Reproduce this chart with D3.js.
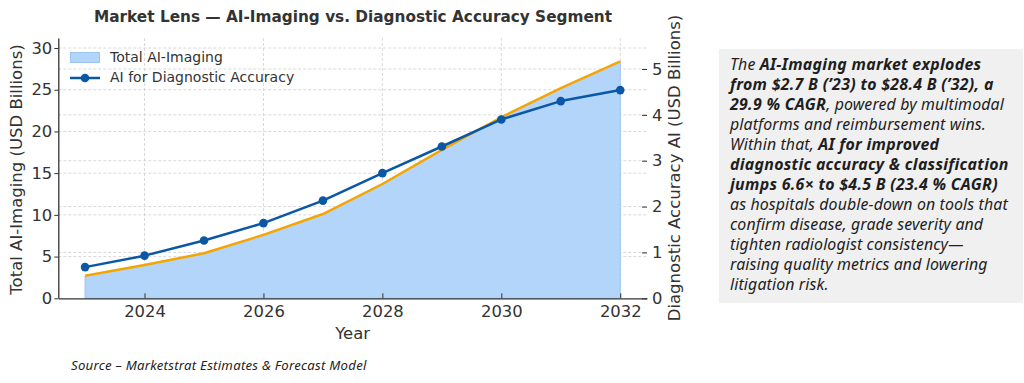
<!DOCTYPE html>
<html>
<head>
<meta charset="utf-8">
<script src="https://cdn.jsdelivr.net/npm/d3@7"></script>
<style>
  html, body { margin: 0; padding: 0; background: #fff; }
  svg { display: block; }
</style>
</head>
<body>
<svg id="chart" width="1024" height="383"></svg>
<script>
// ---- data ----
const years = [2023, 2024, 2025, 2026, 2027, 2028, 2029, 2030, 2031, 2032];
const totalImaging = [2.7, 4.0, 5.4, 7.6, 10.1, 13.7, 17.8, 21.7, 25.2, 28.4];
const diagAccuracy = [0.68, 0.93, 1.26, 1.64, 2.13, 2.73, 3.31, 3.90, 4.30, 4.54];
const xTicks = [2024, 2026, 2028, 2030, 2032];
const leftTicks = [0, 5, 10, 15, 20, 25, 30];
const rightTicks = [0, 1, 2, 3, 4, 5];

const titleText = "Market Lens — AI-Imaging vs. Diagnostic Accuracy Segment";
const xLabel = "Year";
const leftLabel = "Total AI-Imaging (USD Billions)";
const rightLabel = "Diagnostic Accuracy AI (USD Billions)";
const legendLabels = ["Total AI-Imaging", "AI for Diagnostic Accuracy"];
const sourceText = "Source – Marketstrat Estimates & Forecast Model";
const noteLines = [
  [["n", "The "], ["b", "AI-Imaging market explodes"]],
  [["b", "from $2.7 B (’23) to $28.4 B (’32), a"]],
  [["b", "29.9 % CAGR"], ["n", ", powered by multimodal"]],
  [["n", "platforms and reimbursement wins."]],
  [["n", "Within that, "], ["b", "AI for improved"]],
  [["b", "diagnostic accuracy & classification"]],
  [["b", "jumps 6.6× to $4.5 B (23.4 % CAGR)"]],
  [["n", "as hospitals double-down on tools that"]],
  [["n", "confirm disease, grade severity and"]],
  [["n", "tighten radiologist consistency—"]],
  [["n", "raising quality metrics and lowering"]],
  [["n", "litigation risk."]]
];

// ---- layout ----
const plot = { left: 58.3, right: 647, top: 38, bottom: 298.3 };
const FONT = "'DejaVu Sans', sans-serif";
const NOTE_FONT = "'Noto Sans', 'Open Sans', sans-serif";
const ORANGE = "#f5a500";
const BLUE = "#0a58a5";
const AREA = "#b4d5fa";
const AREA_EDGE = "#9dc4ee";
const GRID = "#cfcfcf";
const INK = "#333333";

const svg = d3.select("#chart");

const x = d3.scaleLinear().domain([2022.55, 2032.45]).range([plot.left, plot.right]);
const yL = d3.scaleLinear().domain([0, 31.2]).range([plot.bottom, plot.top]);
const yR = d3.scaleLinear().domain([0, 5.676]).range([plot.bottom, plot.top]);

// grid
const grid = svg.append("g").attr("stroke", GRID).attr("stroke-width", 0.8).attr("stroke-dasharray", "3,2");
grid.selectAll("line.gx").data(xTicks).join("line").attr("class", "gx")
  .attr("x1", d => x(d)).attr("x2", d => x(d)).attr("y1", plot.top).attr("y2", plot.bottom);
grid.selectAll("line.gl").data(leftTicks.filter(d => d > 0)).join("line").attr("class", "gl")
  .attr("x1", plot.left).attr("x2", plot.right).attr("y1", d => yL(d)).attr("y2", d => yL(d));
grid.selectAll("line.gr").data(rightTicks.filter(d => d > 0)).join("line").attr("class", "gr")
  .attr("x1", plot.left).attr("x2", plot.right).attr("y1", d => yR(d)).attr("y2", d => yR(d));

// area + orange line (left axis)
const pts = years.map((y, i) => ({ y, v: totalImaging[i] }));
svg.append("path").datum(pts)
  .attr("d", d3.area().x(d => x(d.y)).y0(yL(0)).y1(d => yL(d.v)))
  .attr("fill", AREA).attr("stroke", AREA_EDGE).attr("stroke-width", 1);
svg.append("path").datum(pts)
  .attr("d", d3.line().x(d => x(d.y)).y(d => yL(d.v)))
  .attr("fill", "none").attr("stroke", ORANGE).attr("stroke-width", 2.5).attr("stroke-linejoin", "round");

// blue line (right axis)
const pts2 = years.map((y, i) => ({ y, v: diagAccuracy[i] }));
svg.append("path").datum(pts2)
  .attr("d", d3.line().x(d => x(d.y)).y(d => yR(d.v)))
  .attr("fill", "none").attr("stroke", BLUE).attr("stroke-width", 2.5).attr("stroke-linejoin", "round");
svg.selectAll("circle.pt").data(pts2).join("circle").attr("class", "pt")
  .attr("cx", d => x(d.y)).attr("cy", d => yR(d.v)).attr("r", 4.3).attr("fill", BLUE);

// axes
const axL = svg.append("g").attr("transform", `translate(${plot.left},0)`)
  .call(d3.axisLeft(yL).tickValues(leftTicks).tickFormat(d3.format("d")).tickSize(4).tickPadding(2).tickSizeOuter(0));
const axB = svg.append("g").attr("transform", `translate(0,${plot.bottom})`)
  .call(d3.axisBottom(x).tickValues(xTicks).tickFormat(d3.format("d")).tickSize(-5).tickPadding(8).tickSizeOuter(0));
const axR = svg.append("g").attr("transform", `translate(${plot.right},0)`)
  .call(d3.axisRight(yR).tickValues(rightTicks).tickFormat(d3.format("d")).tickSize(-5).tickPadding(5).tickSizeOuter(0));
axR.select(".domain").remove();
[axL, axB, axR].forEach(a => {
  a.selectAll("text").attr("font-family", FONT).attr("font-size", 16.4).attr("fill", INK);
  a.selectAll("line").attr("stroke", INK).attr("stroke-width", 1);
  a.select(".domain").attr("stroke", INK).attr("stroke-width", 1.3);
});
axR.selectAll(".tick text").attr("x", 5);
axB.selectAll(".tick text").attr("dy", null).attr("y", 18.4);

// axis labels
svg.append("text").attr("x", (plot.left + plot.right) / 2).attr("y", 339)
  .attr("text-anchor", "middle").attr("font-family", FONT).attr("font-size", 16.5).attr("fill", INK).text(xLabel);
svg.append("text").attr("transform", "translate(22,169.5) rotate(-90)")
  .attr("text-anchor", "middle").attr("font-family", FONT).attr("font-size", 16.5).attr("fill", INK).text(leftLabel);
svg.append("text").attr("transform", "translate(679.5,168) rotate(-90)")
  .attr("text-anchor", "middle").attr("font-family", FONT).attr("font-size", 16.5).attr("fill", INK).text(rightLabel);

// title
svg.append("text").attr("x", 353).attr("y", 21.7).attr("text-anchor", "middle")
  .attr("font-family", FONT).attr("font-weight", "bold").attr("font-size", 15.3).attr("fill", INK).text(titleText);

// legend
const lg = svg.append("g");
lg.append("rect").attr("x", 70.5).attr("y", 52.5).attr("width", 29).attr("height", 10)
  .attr("fill", AREA).attr("stroke", AREA_EDGE).attr("stroke-width", 1);
lg.append("line").attr("x1", 70).attr("x2", 100).attr("y1", 78).attr("y2", 78)
  .attr("stroke", BLUE).attr("stroke-width", 2.5);
lg.append("circle").attr("cx", 85).attr("cy", 78).attr("r", 4.3).attr("fill", BLUE);
lg.selectAll("text").data(legendLabels).join("text")
  .attr("x", 110).attr("y", (d, i) => 61.9 + i * 20.3)
  .attr("font-family", FONT).attr("font-size", 14).attr("fill", INK).text(d => d);

// source
svg.append("text").attr("x", 71).attr("y", 369.5)
  .attr("font-family", NOTE_FONT).attr("font-style", "italic").attr("font-size", 13.2)
  .attr("letter-spacing", 0.25).attr("fill", "#222").text(sourceText);

// note box
svg.append("rect").attr("x", 719).attr("y", 49).attr("width", 304).attr("height", 254).attr("fill", "#f0f0f0");
const note = svg.append("text").attr("font-family", NOTE_FONT).attr("font-style", "italic")
  .attr("font-size", 15.9).attr("fill", "#1e1e1e");
noteLines.forEach((segs, i) => {
  segs.forEach((s, j) => {
    const bold = s[0] === "b";
    const t = note.append("tspan").attr("font-weight", bold ? "bold" : "normal")
      .attr("letter-spacing", bold ? 0.3 : 0.12).text(s[1]);
    if (j === 0) t.attr("x", 730).attr("y", 69.5 + i * 20.06);
  });
});
</script>
</body>
</html>
